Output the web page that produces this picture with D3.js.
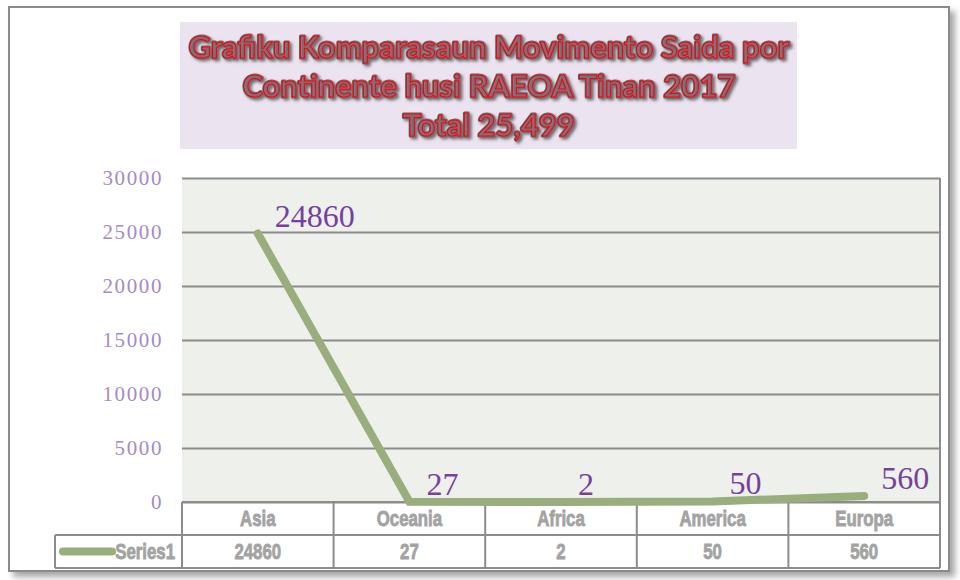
<!DOCTYPE html>
<html>
<head>
<meta charset="utf-8">
<script src="https://cdn.jsdelivr.net/npm/d3@7"></script>
<style>
  body { margin: 0; background: #fff; }
  svg { display: block; }
</style>
</head>
<body>
<div id="chart"></div>
<script>
// chart data
const continents = ['Asia', 'Oceania', 'Africa', 'America', 'Europa'];
const series1 = [24860, 27, 2, 50, 560];
const yTicks = [0, 5000, 10000, 15000, 20000, 25000, 30000];
const seriesName = 'Series1';
const titleLines = ['Grafiku Komparasaun Movimento Saida por', 'Continente husi RAEOA Tinan 2017', 'Total 25,499'];

const width = 960, height = 580;
const margin = { top: 178, right: 20, bottom: 78, left: 182 };
const plotW = width - margin.left - margin.right;
const plotH = height - margin.top - margin.bottom;
const rowH = 33;

const svg = d3.select('#chart').append('svg')
  .attr('width', width)
  .attr('height', height);

// drop shadows
const defs = svg.append('defs');
const shadow = defs.append('filter').attr('id', 'frameShadow')
  .attr('x', '-5%').attr('y', '-5%').attr('width', '110%').attr('height', '110%');
shadow.append('feDropShadow')
  .attr('dx', 5).attr('dy', 5).attr('stdDeviation', 3)
  .attr('flood-color', '#000').attr('flood-opacity', 0.35);

const tShadow = defs.append('filter').attr('id', 'titleShadow');
tShadow.append('feDropShadow')
  .attr('dx', 2).attr('dy', 2).attr('stdDeviation', 1.5)
  .attr('flood-color', '#555').attr('flood-opacity', 0.8);

// outer frame
svg.append('rect')
  .attr('x', 9).attr('y', 7)
  .attr('width', 940).attr('height', 564)
  .attr('fill', '#fff')
  .attr('stroke', '#8a8a8a')
  .attr('stroke-width', 2)
  .attr('filter', 'url(#frameShadow)');

// title box
svg.append('rect')
  .attr('x', 180).attr('y', 22)
  .attr('width', 617).attr('height', 127)
  .attr('fill', '#ebe4f0');

const titleText = (sel, fill, stroke, sw) => sel.selectAll('text')
  .data(titleLines)
  .join('text')
  .attr('x', 489)
  .attr('y', (d, i) => 58 + i * 39)
  .attr('text-anchor', 'middle')
  .style('font-family', 'Lato, "Open Sans", sans-serif')
  .style('font-weight', 'bold')
  .style('font-size', '31px')
  .attr('fill', fill)
  .attr('stroke', stroke)
  .attr('stroke-width', sw)
  .attr('stroke-linejoin', 'round')
  .text(d => d);

svg.append('g').attr('filter', 'url(#titleShadow)')
  .call(titleText, '#6a6670', '#6a6670', 3);
svg.append('g')
  .call(titleText, '#76707c', '#ff0000', 1);

// scales
const x = d3.scaleBand().domain(continents).range([0, plotW]).padding(0);
const y = d3.scaleLinear().domain([0, 30000]).range([plotH, 0]);

const g = svg.append('g').attr('transform', `translate(${margin.left},${margin.top})`);

// plot area
g.append('rect')
  .attr('width', plotW).attr('height', plotH)
  .attr('fill', '#eef0eb');

// gridlines
g.append('g')
  .call(d3.axisLeft(y).tickValues(yTicks).tickSize(-plotW).tickFormat(''))
  .call(a => a.select('.domain').remove())
  .call(a => a.selectAll('line').attr('stroke', '#8c8c8c').attr('stroke-width', 2));

g.append('line')
  .attr('x1', plotW).attr('x2', plotW).attr('y1', 0).attr('y2', plotH)
  .attr('stroke', '#8c8c8c').attr('stroke-width', 2);

// y tick labels
g.append('g')
  .selectAll('text')
  .data(yTicks)
  .join('text')
  .attr('x', -19)
  .attr('y', d => y(d))
  .attr('dy', '0.35em')
  .attr('text-anchor', 'end')
  .style('font-family', '"Liberation Serif", serif')
  .style('font-size', '21px')
  .style('letter-spacing', '1.6px')
  .attr('fill', '#a68bc4')
  .text(d => d);

// data table
const table = g.append('g').attr('transform', `translate(0,${plotH})`);
const tableStroke = '#8c8c8c';

// horizontal rules
[0, rowH, rowH * 2].forEach((yy, i) => {
  table.append('line')
    .attr('x1', i === 0 ? 0 : -127).attr('x2', plotW)
    .attr('y1', yy).attr('y2', yy)
    .attr('stroke', tableStroke).attr('stroke-width', 2);
});
// vertical rules
d3.range(continents.length + 1).forEach(i => {
  const xx = i * x.bandwidth();
  table.append('line')
    .attr('x1', xx).attr('x2', xx)
    .attr('y1', 0).attr('y2', rowH * 2)
    .attr('stroke', tableStroke).attr('stroke-width', 2);
});
table.append('line')
  .attr('x1', -127).attr('x2', -127)
  .attr('y1', rowH).attr('y2', rowH * 2)
  .attr('stroke', tableStroke).attr('stroke-width', 2);

// condensed bold cell text
const cellText = (sel, tx, ty, anchor) => sel
  .attr('transform', (d, i) => `translate(${tx(d, i)},${ty}) scale(0.8,1.05)`)
  .attr('dy', '0.36em')
  .attr('text-anchor', anchor)
  .style('font-family', '"Liberation Sans", Arial, sans-serif')
  .style('font-weight', 'bold')
  .style('font-size', '21px')
  .attr('fill', '#a3a3a3')
  .attr('stroke', '#a3a3a3')
  .attr('stroke-width', 0.8);

table.selectAll('text.cat')
  .data(continents)
  .join('text')
  .attr('class', 'cat')
  .call(cellText, d => x(d) + x.bandwidth() / 2, rowH / 2, 'middle')
  .text(d => d);

table.selectAll('text.val')
  .data(series1)
  .join('text')
  .attr('class', 'val')
  .call(cellText, (d, i) => x(continents[i]) + x.bandwidth() / 2, rowH * 1.5, 'middle')
  .text(d => d);

// legend key in the table
table.append('line')
  .attr('x1', -119).attr('x2', -70)
  .attr('y1', rowH * 1.5).attr('y2', rowH * 1.5)
  .attr('stroke', '#9aae7d').attr('stroke-width', 8)
  .attr('stroke-linecap', 'round');
table.append('text')
  .datum(seriesName)
  .call(cellText, () => -7, rowH * 1.5, 'end')
  .text(d => d);

// series line
const line = d3.line()
  .x((d, i) => x(continents[i]) + x.bandwidth() / 2)
  .y(d => y(d));

g.append('path')
  .datum(series1)
  .attr('d', line)
  .attr('fill', 'none')
  .attr('stroke', '#9aae7d')
  .attr('stroke-width', 8)
  .attr('stroke-linecap', 'round')
  .attr('stroke-linejoin', 'miter');

// data labels
g.selectAll('text.lbl')
  .data(series1)
  .join('text')
  .attr('class', 'lbl')
  .attr('x', (d, i) => x(continents[i]) + x.bandwidth() / 2 + 17)
  .attr('y', d => y(d) - 7)
  .style('font-family', '"Liberation Serif", serif')
  .style('font-size', '32px')
  .attr('fill', '#7740a0')
  .text(d => d);
</script>
</body>
</html>
